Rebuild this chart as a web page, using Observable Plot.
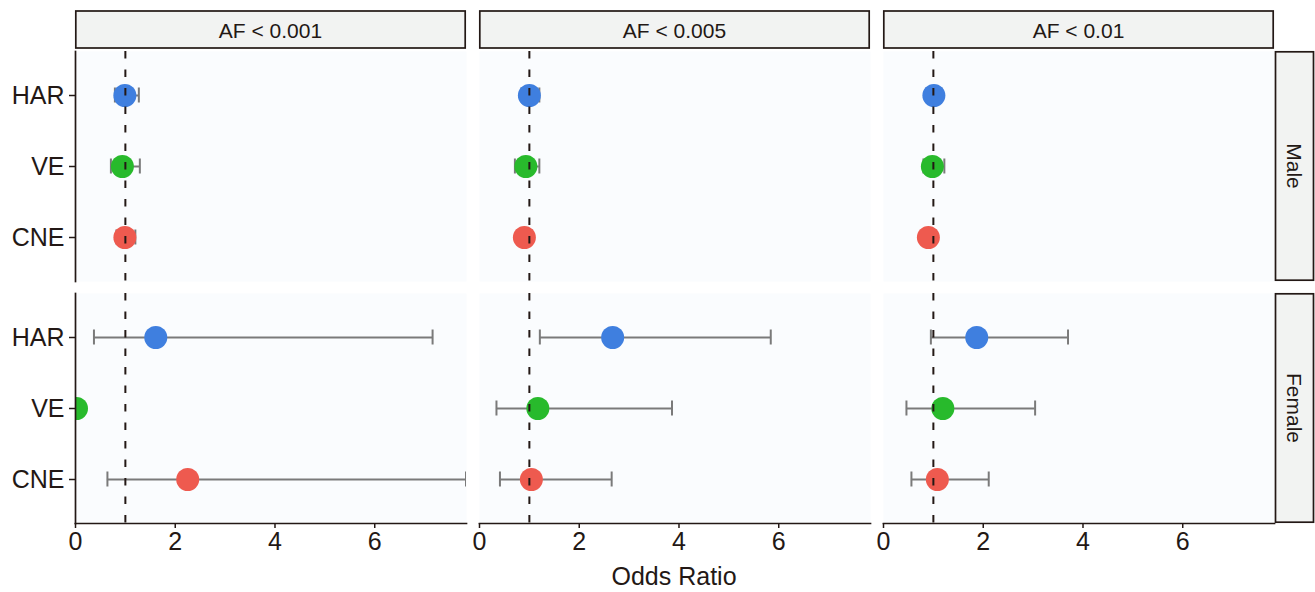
<!DOCTYPE html>
<html>
<head>
<meta charset="utf-8">
<script src="https://cdn.jsdelivr.net/npm/d3@7"></script>
<script src="https://cdn.jsdelivr.net/npm/@observablehq/plot@0.6"></script>
<style>
  body { margin: 0; background: #ffffff; }
  #chart svg { display: block; }
</style>
</head>
<body>
<div id="chart"></div>
<script>
// ---- data ----
const thresholds = ["AF < 0.001", "AF < 0.005", "AF < 0.01"];
const sexes = ["Male", "Female"];
const regions = ["HAR", "VE", "CNE"];
const regionColors = ["#3F7FDF", "#28BA2C", "#EE5A4F"];
const xTicks = [0, 2, 4, 6];

// odds ratios, per threshold, order HAR, VE, CNE
const orMale   = [[0.99, 0.94, 0.99], [1.00, 0.93, 0.90], [1.01, 0.98, 0.90]];
const loMale   = [[0.79, 0.71, 0.82], [0.84, 0.71, 0.76], [0.86, 0.80, 0.78]];
const hiMale   = [[1.27, 1.29, 1.20], [1.20, 1.20, 1.05], [1.16, 1.22, 1.04]];
const orFemale = [[1.61, 0.02, 2.25], [2.67, 1.17, 1.04], [1.87, 1.19, 1.08]];
const loFemale = [[0.37, null, 0.64], [1.21, 0.34, 0.41], [0.95, 0.46, 0.56]];
const hiFemale = [[7.16, null, 7.83], [5.84, 3.86, 2.65], [3.70, 3.04, 2.11]];

const rows = [];
thresholds.forEach((af, i) => {
  regions.forEach((r, j) => {
    rows.push({af, sex: "Male", region: r, or: orMale[i][j], lo: loMale[i][j], hi: hiMale[i][j]});
    rows.push({af, sex: "Female", region: r, or: orFemale[i][j], lo: loFemale[i][j], hi: hiFemale[i][j]});
  });
});
const ci = rows.filter(d => d.lo != null && d.hi != null);

const ink = "#231815";
const font = "'Liberation Sans', Arial, Helvetica, sans-serif";

const plot = Plot.plot({
  width: 1315,
  height: 592,
  marginLeft: 74,
  marginRight: 41,
  marginTop: 50,
  marginBottom: 68,
  style: {fontFamily: font, color: ink, background: "#ffffff"},
  fx: {domain: thresholds, paddingInner: 0.0334, paddingOuter: 0, axis: null},
  fy: {domain: sexes, paddingInner: 0.049, paddingOuter: 0, axis: null},
  x: {domain: [0, 7.84]},
  y: {type: "point", domain: regions, padding: 0.6},
  color: {domain: regions, range: regionColors},
  marks: [
    Plot.frame({fill: "#FAFCFE", stroke: null}),
    Plot.ruleY(ci, {fx: "af", fy: "sex", y: "region", x1: "lo", x2: "hi", stroke: "#7A7A7A", strokeWidth: 2, clip: true}),
    Plot.ruleX(ci, {fx: "af", fy: "sex", y1: "region", y2: "region", x: "lo", stroke: "#7A7A7A", strokeWidth: 2, insetTop: -7.5, insetBottom: -7.5, clip: true}),
    Plot.ruleX(ci, {fx: "af", fy: "sex", y1: "region", y2: "region", x: "hi", stroke: "#7A7A7A", strokeWidth: 2, insetTop: -7.5, insetBottom: -7.5, clip: true}),
    Plot.dot(rows, {fx: "af", fy: "sex", y: "region", x: "or", r: 11.5, fill: "region", stroke: null, clip: true}),
    Plot.ruleX([1], {stroke: ink, strokeWidth: 2, strokeDasharray: "7.5,11"}),
    Plot.frame({anchor: "left", facetAnchor: "left", stroke: ink, strokeWidth: 1.7}),
    Plot.frame({anchor: "bottom", facetAnchor: "bottom", stroke: ink, strokeWidth: 1.7}),
    Plot.axisY({anchor: "left", tickSize: 6, tickPadding: 5, fontSize: 25, label: null, strokeWidth: 1.5}),
    Plot.axisX({anchor: "bottom", ticks: xTicks, tickSize: 5, tickPadding: 4, fontSize: 25, label: null, strokeWidth: 1.5})
  ]
});

document.getElementById("chart").appendChild(plot);

// ---- facet strips and axis title, placed with Plot's own facet scales ----
const svg = d3.select(plot.tagName.toLowerCase() === "svg" ? plot : plot.querySelector("svg"));
const fx = plot.scale("fx");
const fy = plot.scale("fy");
const g = svg.append("g").attr("font-family", font).attr("fill", ink);

thresholds.forEach(t => {
  const x0 = fx.apply(t);
  g.append("rect")
    .attr("x", x0 + 0.8).attr("y", 11).attr("width", fx.bandwidth - 1.6).attr("height", 37)
    .attr("fill", "#F2F3F2").attr("stroke", ink).attr("stroke-width", 1.7);
  g.append("text")
    .attr("x", x0 + fx.bandwidth / 2).attr("y", 30)
    .attr("text-anchor", "middle").attr("dominant-baseline", "central")
    .attr("font-size", 21).text(t);
});

const stripX = 1275.5, stripW = 38;
sexes.forEach(s => {
  const y0 = fy.apply(s);
  g.append("rect")
    .attr("x", stripX).attr("y", y0 + 0.8).attr("width", stripW).attr("height", fy.bandwidth - 1.6)
    .attr("fill", "#F2F3F2").attr("stroke", ink).attr("stroke-width", 1.7);
  const cx = stripX + stripW / 2, cy = y0 + fy.bandwidth / 2;
  g.append("text")
    .attr("transform", `translate(${cx},${cy}) rotate(90)`)
    .attr("text-anchor", "middle").attr("dominant-baseline", "central")
    .attr("font-size", 21).text(s);
});

const xr = fx.range;
g.append("text")
  .attr("x", (xr[0] + xr[1]) / 2).attr("y", 585)
  .attr("text-anchor", "middle").attr("font-size", 25).text("Odds Ratio");
</script>
</body>
</html>
